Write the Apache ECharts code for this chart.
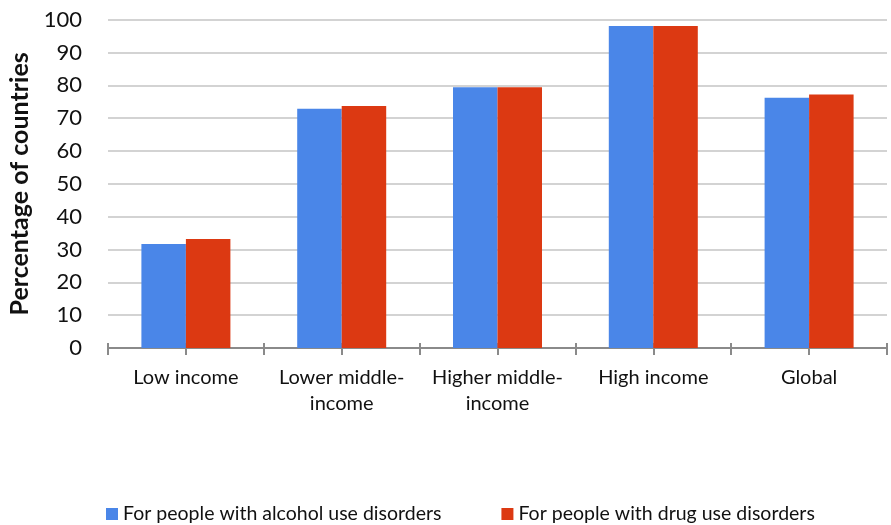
<!DOCTYPE html>
<html>
<head>
<meta charset="utf-8">
<script src="https://cdn.jsdelivr.net/npm/echarts@6/dist/echarts.min.js"></script>
<style>
  html, body { margin: 0; padding: 0; background: #fff; }
  #chart { width: 891px; height: 525px; }
</style>
</head>
<body>
<div id="chart"></div>
<script>
// Income groups on the category axis
const categories = ['Low income', 'Lower middle-\nincome', 'Higher middle-\nincome', 'High income', 'Global'];
// Share of countries (%) offering services
const alcoholValues = [31.7, 72.9, 79.4, 98.1, 76.2];
const drugValues = [33.2, 73.7, 79.4, 98.1, 77.2];
const seriesNames = ['For people with alcohol use disorders', 'For people with drug use disorders'];
const yTicks = [0, 10, 20, 30, 40, 50, 60, 70, 80, 90, 100];

const FONT = 'Lato, "Open Sans", sans-serif';
const chart = echarts.init(document.getElementById('chart'), null, { renderer: 'canvas' });

// hidden helper axes that only draw tick marks crossing the main axis line
function tickAxis(alignWithLabel) {
  return {
    type: 'category',
    data: categories,
    position: 'bottom',
    offset: -5,
    axisLine: { show: false },
    axisLabel: { show: false },
    axisTick: { show: true, alignWithLabel: alignWithLabel, length: 12, lineStyle: { color: '#8a8a8a', width: 2 } },
    splitLine: { show: false }
  };
}

chart.setOption({
  animation: false,
  color: ['#4a86e8', '#dc3912'],
  grid: { left: 108, right: 4, top: 19.7, bottom: 177, containLabel: false, outerBoundsMode: 'none' },
  legend: {
    bottom: -4,
    left: 101,
    itemGap: 60,
    itemWidth: 12,
    itemHeight: 12,
    icon: 'rect',
    textStyle: { fontFamily: FONT, fontSize: 19.5, color: '#111' },
    data: seriesNames
  },
  xAxis: [
    {
      type: 'category',
      data: categories,
      axisLine: { show: true, lineStyle: { color: '#8a8a8a', width: 2 } },
      axisTick: { show: false },
      axisLabel: { color: '#111', fontFamily: FONT, fontSize: 20, margin: 17, lineHeight: 26, interval: 0 }
    },
    tickAxis(false),
    tickAxis(true)
  ],
  yAxis: {
    type: 'value',
    min: yTicks[0],
    max: yTicks[yTicks.length - 1],
    interval: 10,
    name: 'Percentage of countries',
    nameLocation: 'middle',
    nameGap: 76,
    nameTextStyle: { fontFamily: FONT, fontSize: 25, fontWeight: 'bold', color: '#111' },
    axisLine: { show: false },
    axisTick: { show: false },
    axisLabel: { color: '#111', fontFamily: FONT, fontSize: 22, margin: 26 },
    splitLine: { lineStyle: { color: '#c4c4c4', width: 1.5 } }
  },
  series: [
    { name: seriesNames[0], type: 'bar', data: alcoholValues, barWidth: 44.5, barGap: '0%' },
    { name: seriesNames[1], type: 'bar', data: drugValues, barWidth: 44.5, barGap: '0%' }
  ]
});
</script>
</body>
</html>
